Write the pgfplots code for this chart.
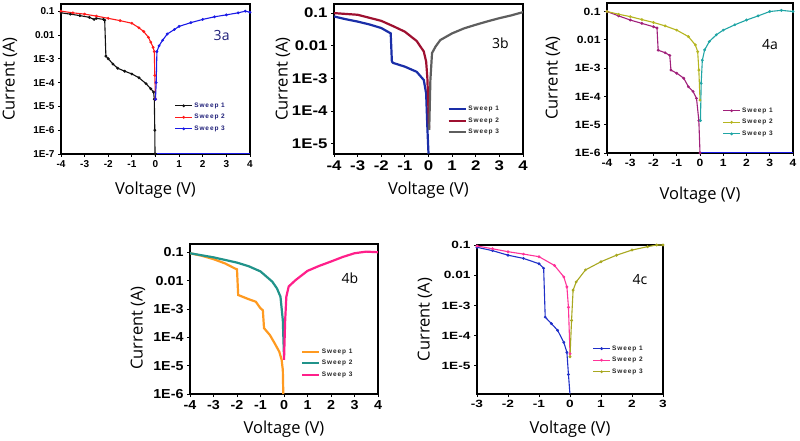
\documentclass[border=0pt]{standalone}
\usepackage{fontspec}
\setmainfont{Open Sans}
\newfontfamily\tfA{Liberation Sans}
\newfontfamily\tfB[FakeStretch=1.2]{Liberation Sans}
\newfontfamily\tfC[FakeStretch=1.15]{Liberation Sans}
\newfontfamily\tfD[FakeStretch=1.1]{Liberation Sans}
\newfontfamily\tfE[FakeStretch=1.3]{Liberation Sans}
\newfontfamily\legf[LetterSpace=14]{Liberation Sans}
\usepackage{pgfplots}
\pgfplotsset{compat=1.18}
\definecolor{aR}{HTML}{FF1A1A}\definecolor{aB}{HTML}{1A1AE6}\definecolor{aK}{HTML}{111111}
\definecolor{bB}{HTML}{1A2EA8}\definecolor{bR}{HTML}{9E1030}\definecolor{bG}{HTML}{5E5E5E}
\definecolor{cM}{HTML}{A0207A}\definecolor{cO}{HTML}{B5B520}\definecolor{cT}{HTML}{20A5A5}
\definecolor{dO}{HTML}{FF9A20}\definecolor{dT}{HTML}{21938A}\definecolor{dP}{HTML}{FF1F8A}
\definecolor{eB}{HTML}{1F2FC8}\definecolor{eP}{HTML}{FF3399}\definecolor{eO}{HTML}{A8A820}
\definecolor{navy}{HTML}{1E1E78}
\newcommand\labfont{\fontsize{16.5}{17}\selectfont}
\pgfplotsset{
  panelstyle/.style={scale only axis, axis line style={line width=1.2pt},
    tick style={line width=0.8pt, black}, tick align=outside, major tick length=3pt,
    xtick pos=bottom, ytick pos=left, yminorticks=false, legend cell align=left,
    xlabel={Voltage (V)}, ylabel={Current (A)},
    legend style={draw=none, fill=none, inner sep=0pt, row sep=2.5pt,
      nodes={inner sep=1.5pt}, font=\legf\bfseries\fontsize{6.5}{7}\selectfont},
  },
  xl/.style={every axis x label/.style={at={(axis description cs:0.5,#1)}, anchor=center, font=\labfont}},
  yl/.style 2 args={every axis y label/.style={at={(axis description cs:#1,#2)}, anchor=center, rotate=90, font=\labfont}},
}
\begin{document}
\begin{tikzpicture}
\useasboundingbox (0pt,0pt) rectangle (800pt,441pt);
% ---------------- 3a
\begin{axis}[ymode=log, panelstyle, at={(61pt,287pt)}, anchor=south west, width=189pt, height=150pt,
  xmin=-4, xmax=4, ymin=1e-7, ymax=0.2,
  xtick={-4,...,4}, xticklabels={-4,-3,-2,-1,0,1,2,3,4},
  ytick={1e-7,1e-6,1e-5,1e-4,1e-3,1e-2,1e-1}, yticklabels={1E-7,1E-6,1E-5,1E-4,1E-3,0.01,0.1},
  ticklabel style={font=\tfA\bfseries\fontsize{10}{10}\selectfont},
  xl=-0.24, yl={-0.27}{0.5},
  legend style={at={(0.60,0.353)}, anchor=north west, text=navy}]
\addplot[aK, line width=1.1pt, mark=*, mark size=0.8pt] coordinates {(-4,0.085)(-3.6,0.075)(-3.2,0.065)(-2.8,0.055)(-2.6,0.045)(-2.5,0.05)(-2.2,0.045)(-2.15,0.042)(-2.1,1.3e-3)(-2.0,1.0e-3)(-1.8,6e-4)(-1.6,4e-4)(-1.3,3e-4)(-1.0,2.3e-4)(-0.7,1.6e-4)(-0.4,9e-5)(-0.2,5.5e-5)(-0.08,4e-5)(-0.05,2e-5)(-0.03,1e-6)(-0.02,1e-7)};
\addplot[aR, line width=1.1pt, mark=*, mark size=0.8pt] coordinates {(-4,0.1)(-3.5,0.085)(-3,0.075)(-2.5,0.062)(-2,0.05)(-1.5,0.04)(-1,0.031)(-0.7,0.02)(-0.5,0.014)(-0.3,8e-3)(-0.2,5e-3)(-0.1,3e-3)(-0.05,2e-3)(-0.03,2e-4)(0,2e-5)};
\addplot[aB, line width=1.1pt, mark=*, mark size=0.8pt] coordinates {(0,2e-5)(0.03,1e-4)(0.06,2e-3)(0.15,3.5e-3)(0.3,6e-3)(0.5,0.011)(0.8,0.017)(1,0.023)(1.5,0.033)(2,0.045)(2.5,0.058)(3,0.07)(3.5,0.085)(3.8,0.1)(4,0.09)};
\addplot[aB, line width=1pt, forget plot] coordinates {(0.05,1.05e-7)(4,1.05e-7)};
\legend{Sweep 1, Sweep 2, Sweep 3}
\node[font=\fontsize{14}{14}\selectfont, text=navy] at (axis description cs:0.85,0.79) {3a};
\end{axis}
% ---------------- 3b
\begin{axis}[ymode=log, panelstyle, at={(334pt,287pt)}, anchor=south west, width=189pt, height=150pt,
  xmin=-4, xmax=4, ymin=4.9e-6, ymax=0.19,
  xtick={-4,...,4}, xticklabels={-4,-3,-2,-1,0,1,2,3,4},
  ytick={1e-5,1e-4,1e-3,1e-2,1e-1}, yticklabels={1E-5,1E-4,1E-3,0.01,0.1},
  ticklabel style={font=\tfB\bfseries\fontsize{14}{14}\selectfont},
  xl=-0.24, yl={-0.27}{0.5},
  legend style={at={(0.60,0.33)}, anchor=north west, text=black!85}]
\addplot[bB, line width=2.2pt] coordinates {(-4,0.079)(-3.5,0.065)(-3,0.055)(-2.5,0.045)(-2,0.035)(-1.6,0.024)(-1.55,3.3e-3)(-1.5,3.0e-3)(-1,2.3e-3)(-0.5,1.6e-3)(-0.2,9e-4)(-0.1,3.5e-4)(-0.05,3.4e-5)(0,5e-6)};
\addplot[bR, line width=2.2pt] coordinates {(-4,0.1)(-3,0.089)(-2,0.058)(-1.5,0.04)(-1,0.027)(-0.5,0.014)(-0.2,6.7e-3)(-0.1,3.3e-3)(-0.05,1.1e-3)(0,1.1e-4)(0.02,3e-5)};
\addplot[bG, line width=2.2pt] coordinates {(0.03,2.7e-5)(0.08,9e-4)(0.15,6e-3)(0.3,9.5e-3)(0.5,0.015)(1,0.024)(1.5,0.034)(2,0.044)(2.5,0.056)(3,0.07)(3.5,0.085)(4,0.107)};
\legend{Sweep 1, Sweep 2, Sweep 3}
\node[font=\fontsize{14}{14}\selectfont] at (axis description cs:0.88,0.74) {3b};
\end{axis}
% ---------------- 4a
\begin{axis}[ymode=log, panelstyle, at={(607pt,288pt)}, anchor=south west, width=186pt, height=150pt,
  xmin=-4, xmax=4, ymin=1e-6, ymax=0.2,
  xtick={-4,...,4}, xticklabels={-4,-3,-2,-1,0,1,2,3,4},
  ytick={1e-6,1e-5,1e-4,1e-3,1e-2,1e-1}, yticklabels={1E-6,1E-5,1E-4,1E-3,0.01,0.1},
  ticklabel style={font=\tfC\bfseries\fontsize{10.5}{11}\selectfont},
  xl=-0.28, yl={-0.29}{0.5},
  legend style={at={(0.62,0.313)}, anchor=north west, text=black!85}]
\addplot[cM, line width=1.1pt, mark=*, mark size=0.8pt] coordinates {(-4,0.1)(-3.5,0.07)(-3,0.05)(-2.5,0.038)(-2,0.029)(-1.85,0.026)(-1.8,4.3e-3)(-1.5,3.5e-3)(-1.3,2.8e-3)(-1.25,8.5e-4)(-1,6.6e-4)(-0.7,4.4e-4)(-0.5,2.2e-4)(-0.3,1.5e-4)(-0.15,8.5e-5)(-0.05,1.4e-5)(0,1e-6)};
\addplot[cO, line width=1.1pt, mark=*, mark size=0.8pt] coordinates {(-4,0.1)(-3.5,0.08)(-3,0.066)(-2.5,0.052)(-2,0.041)(-1.5,0.031)(-1,0.022)(-0.5,0.013)(-0.2,6.6e-3)(-0.1,3.8e-3)(-0.05,8.5e-4)(0,7.4e-5)};
\addplot[cT, line width=1.1pt, mark=*, mark size=0.8pt] coordinates {(0.02,1.4e-5)(0.05,2.9e-4)(0.1,1.9e-3)(0.2,4.4e-3)(0.4,8.7e-3)(0.7,0.015)(1,0.022)(1.5,0.034)(2,0.05)(2.5,0.07)(3,0.1)(3.5,0.11)(4,0.1)};
\addplot[aB, line width=1pt, forget plot] coordinates {(0.05,1.03e-6)(4,1.03e-6)};
\legend{Sweep 1, Sweep 2, Sweep 3}
\node[font=\fontsize{14}{14}\selectfont] at (axis description cs:0.876,0.72) {4a};
\end{axis}
% ---------------- 4b
\begin{axis}[ymode=log, panelstyle, at={(190pt,47pt)}, anchor=south west, width=188pt, height=150pt,
  xmin=-4, xmax=4, ymin=1e-6, ymax=0.195,
  xtick={-4,...,4}, xticklabels={-4,-3,-2,-1,0,1,2,3,4},
  ytick={1e-6,1e-5,1e-4,1e-3,1e-2,1e-1}, yticklabels={1E-6,1E-5,1E-4,1E-3,0.01,0.1},
  ticklabel style={font=\tfD\bfseries\fontsize{13}{13}\selectfont},
  xl=-0.233, yl={-0.277}{0.44},
  legend style={at={(0.59,0.313)}, anchor=north west, text=black!85}]
\addplot[dO, line width=2.2pt] coordinates {(-4,0.092)(-3.5,0.075)(-3,0.057)(-2.5,0.04)(-2.1,0.027)(-2,0.025)(-1.95,3.1e-3)(-1.5,2.2e-3)(-1.2,1.8e-3)(-1,1.05e-3)(-0.9,9e-4)(-0.85,2.1e-4)(-0.6,1.2e-4)(-0.4,6.2e-5)(-0.2,3.1e-5)(-0.1,1.6e-5)(-0.05,7e-6)(-0.03,1e-6)};
\addplot[dT, line width=2.2pt] coordinates {(-4,0.092)(-3,0.066)(-2,0.043)(-1.5,0.032)(-1,0.021)(-0.5,9.2e-3)(-0.3,5.3e-3)(-0.15,2.7e-3)(-0.05,4e-4)(0,2.1e-5)};
\addplot[dP, line width=2.2pt] coordinates {(0,1.6e-5)(0.05,4e-4)(0.1,2.7e-3)(0.2,6.2e-3)(0.5,0.0105)(1,0.022)(1.5,0.033)(2,0.047)(2.5,0.068)(3,0.092)(3.5,0.105)(4,0.1)};
\legend{Sweep 1, Sweep 2, Sweep 3}
\node[font=\fontsize{14}{14}\selectfont] at (axis description cs:0.85,0.773) {4b};
\end{axis}
% ---------------- 4c
\begin{axis}[ymode=log, panelstyle, at={(477pt,47pt)}, anchor=south west, width=186pt, height=149pt,
  xmin=-3, xmax=3, ymin=1.17e-6, ymax=0.1,
  xtick={-3,...,3}, xticklabels={-3,-2,-1,0,1,2,3},
  ytick={1e-5,1e-4,1e-3,1e-2,1e-1}, yticklabels={1E-5,1E-4,1E-3,0.01,0.1},
  ticklabel style={font=\tfE\bfseries\fontsize{10.5}{11}\selectfont},
  xl=-0.235, yl={-0.28}{0.5},
  legend style={at={(0.62,0.336)}, anchor=north west, text=black!85}]
\addplot[eB, line width=1.1pt, mark=*, mark size=0.8pt] coordinates {(-3,0.084)(-2.5,0.065)(-2,0.046)(-1.5,0.036)(-1,0.024)(-0.85,0.017)(-0.8,4.1e-4)(-0.6,2.5e-4)(-0.4,1.5e-4)(-0.2,6e-5)(-0.1,2.8e-5)(-0.05,5.2e-6)(0,1.1e-6)};
\addplot[eP, line width=1.1pt, mark=*, mark size=0.8pt] coordinates {(-3,0.093)(-2.5,0.075)(-2,0.06)(-1.5,0.05)(-1,0.041)(-0.5,0.021)(-0.2,8.8e-3)(-0.1,4.1e-3)(-0.05,8.7e-4)(0,2.5e-5)};
\addplot[eO, line width=1.1pt, mark=*, mark size=0.8pt] coordinates {(0,2e-5)(0.05,3.2e-4)(0.1,3.2e-3)(0.2,6e-3)(0.5,0.015)(1,0.028)(1.5,0.046)(2,0.068)(2.5,0.088)(2.8,0.1)(3,0.1)};
\legend{Sweep 1, Sweep 2, Sweep 3}
\node[font=\fontsize{14}{14}\selectfont] at (axis description cs:0.876,0.765) {4c};
\end{axis}
\end{tikzpicture}
\end{document}
